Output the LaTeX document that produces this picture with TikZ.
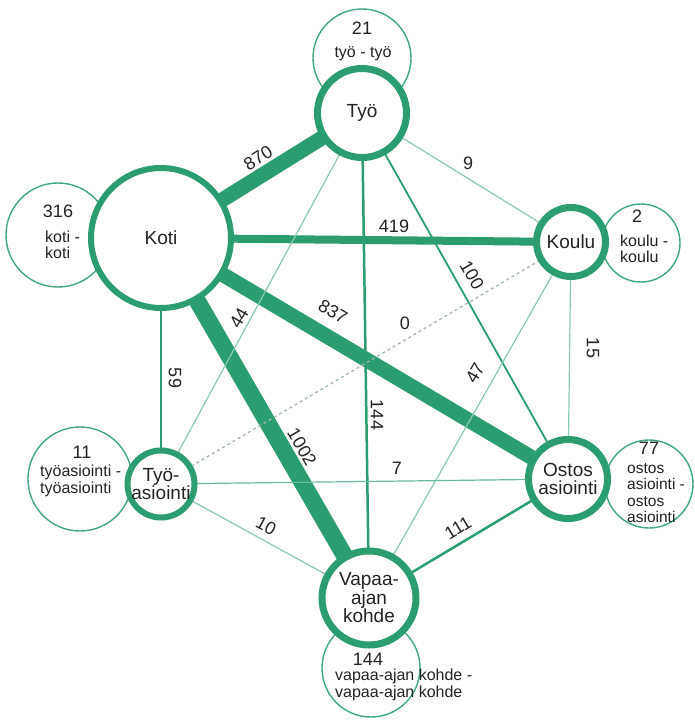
\documentclass[tikz,border=0pt]{standalone}
\usepackage{fontspec}
\setmainfont{Liberation Sans}
\definecolor{gr}{RGB}{44,157,112}
\definecolor{txt}{RGB}{35,35,35}
\pgfdeclarelayer{sec}
\pgfdeclarelayer{edges}
\pgfsetlayers{sec,edges,main}
\begin{document}
\begin{tikzpicture}[x=1pt,y=-1pt,
 mainc/.style={circle, draw=gr, fill=white, inner sep=0pt, align=center, text=txt, font=\fontsize{19}{18.5}\selectfont},
 secc/.style={circle, draw=gr!90, line width=1.4pt, fill=white, inner sep=0pt},
 num/.style={text=txt, font=\fontsize{18}{18}\selectfont, inner sep=0pt},
 small/.style={text=txt, font=\fontsize{16}{16.5}\selectfont, align=left, inner sep=0pt},
 elab/.style={text=txt, font=\fontsize{18}{18}\selectfont, inner sep=0pt},
 link/.style={draw=gr},
 weak/.style={draw=gr!55, line width=1.2pt},
 dashlink/.style={draw=gr!35!gray!60, line width=1.3pt, dash pattern=on 3pt off 3pt},
]
\useasboundingbox (0,0) rectangle (694,720);
% main nodes
\node[mainc, line width=6pt, minimum size=140pt] (koti) at (161,238) {Koti};
\node[mainc, line width=7pt, minimum size=89pt] (tyo) at (362,113) {Työ};
\node[mainc, line width=7pt, minimum size=69pt] (koulu) at (571,242) {Koulu};
\node[mainc, line width=6pt, minimum size=65pt] (tyoas) at (161,484) {Työ-\\asiointi};
\node[mainc, line width=7pt, minimum size=79pt] (ostos) at (568,479) {Ostos\\asiointi};
\node[mainc, line width=7pt, minimum size=94pt] (vapaa) at (369,598) {Vapaa-\\ajan\\kohde};
% secondary circles
\begin{pgfonlayer}{sec}
\fill[white] (0,0) rectangle (694,720);
\node[secc, minimum size=98pt] (s21) at (362,58) {};
\node[secc, minimum size=104pt] (s316) at (58,235) {};
\node[secc, minimum size=78pt] (s2) at (641,243) {};
\node[secc, minimum size=104pt] (s11) at (80,479) {};
\node[secc, minimum size=88pt] (s77) at (649,484) {};
\node[secc, minimum size=98pt] (s144) at (371,668) {};
\node[num] (t21) at (362,28) {21};
\node[small] (u21) at (363,54) {työ - työ};
\node[num] (t316) at (58,211) {316};
\node[small, anchor=west] (u316) at (45,245) {koti -\\koti};
\node[num] (t2) at (637,216) {2};
\node[small, anchor=west] (u2) at (620,249) {koulu -\\koulu};
\node[num] (t11) at (82,452) {11};
\node[small, anchor=west] (u11) at (40,481) {työasiointi -\\työasiointi};
\node[num] (t77) at (649,448) {77};
\node[small, anchor=west, font=\fontsize{15.5}{16.5}\selectfont] (u77) at (627,493) {ostos\\asiointi -\\ostos\\asiointi};
\node[num] (t144) at (368,659) {144};
\node[small, anchor=west] (u144) at (335,685) {vapaa-ajan kohde -\\vapaa-ajan kohde};
\end{pgfonlayer}
% edges
\begin{pgfonlayer}{edges}
\draw[link, line width=15pt] (koti.center) -- (tyo.center);
\draw[link, line width=8pt] (koti.center) -- (koulu.center);
\draw[link, line width=15pt] (koti.center) -- (ostos.center);
\draw[link, line width=17pt] (koti.center) -- (vapaa.center);
\draw[link, line width=2pt] (koti.center) -- (tyoas.center);
\draw[weak] (tyo.center) -- (koulu.center);
\draw[link, line width=1.8pt] (tyo.center) -- (ostos.center);
\draw[link, line width=2.5pt] (tyo.center) -- (vapaa.center);
\draw[weak] (tyo.center) -- (tyoas.center);
\draw[weak] (koulu.center) -- (ostos.center);
\draw[dashlink] (koulu.center) -- (tyoas.center);
\draw[weak] (koulu.center) -- (vapaa.center);
\draw[weak, draw=gr!70] (tyoas.center) -- (ostos.center);
\draw[weak] (tyoas.center) -- (vapaa.center);
\draw[link, line width=2.5pt] (ostos.center) -- (vapaa.center);
\end{pgfonlayer}
% edge labels
\node[elab, rotate=32] (l870) at (258,158) {870};
\node[elab] (l9) at (468,163) {9};
\node[elab] (l419) at (394,226) {419};
\node[elab, rotate=-60] (l100) at (472,275) {100};
\node[elab, rotate=60] (l44) at (239,318) {44};
\node[elab, rotate=-30] (l837) at (333,312) {837};
\node[elab] (l0) at (405,323) {0};
\node[elab, rotate=-90] (l59) at (175,378) {59};
\node[elab, rotate=60] (l47) at (475,373) {47};
\node[elab, rotate=-90] (l144) at (377,415) {144};
\node[elab, rotate=-60] (l1002) at (302,447) {1002};
\node[elab] (l7) at (397,468) {7};
\node[elab, rotate=-90] (l15) at (593,348) {15};
\node[elab, rotate=-28] (l10) at (266,526) {10};
\node[elab, rotate=31] (l111) at (458,528) {111};
\end{tikzpicture}
\end{document}
